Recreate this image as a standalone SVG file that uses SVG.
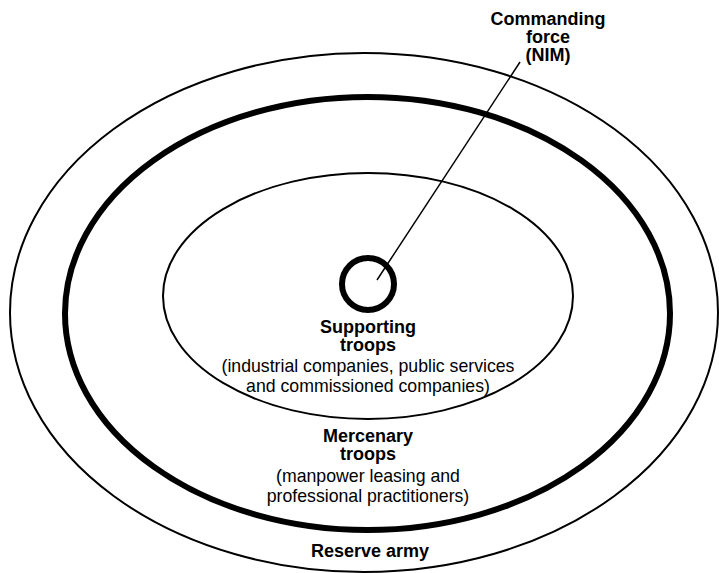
<svg xmlns="http://www.w3.org/2000/svg" width="719" height="573" viewBox="0 0 719 573">
<style>
.ring{fill:none;stroke:#000}
.b{font-family:"Liberation Sans",Arial,sans-serif;font-weight:bold;font-size:18px;text-anchor:middle;fill:#000}
.r{font-family:"Liberation Sans",Arial,sans-serif;font-size:17.7px;text-anchor:middle;fill:#000}
</style>
<rect width="719" height="573" fill="#fff"/>
<g id="reserve-army">
<ellipse class="ring" cx="364" cy="312.5" rx="354" ry="259.5" stroke-width="2"/>
<text class="b" x="370" y="557">Reserve army</text>
</g>
<g id="mercenary-troops">
<ellipse class="ring" cx="367.5" cy="313.5" rx="302.5" ry="216.5" stroke-width="6"/>
<text class="b" x="368" y="442">Mercenary</text>
<text class="b" x="368" y="460">troops</text>
<text class="r" x="368" y="482">(manpower leasing and</text>
<text class="r" x="368" y="502">professional practitioners)</text>
</g>
<g id="supporting-troops">
<ellipse class="ring" cx="368" cy="296" rx="205" ry="123" stroke-width="2"/>
<text class="b" x="368" y="333">Supporting</text>
<text class="b" x="368" y="351">troops</text>
<text class="r" x="368" y="372">(industrial companies, public services</text>
<text class="r" x="368" y="392">and commissioned companies)</text>
</g>
<g id="commanding-force">
<circle class="ring" cx="368" cy="284" r="26" stroke-width="6"/>
<text class="b" x="548" y="25">Commanding</text>
<text class="b" x="548" y="43">force</text>
<text class="b" x="548" y="61">(NIM)</text>
</g>
<g id="connectors">
<line x1="377" y1="280" x2="520" y2="62" stroke="#000" stroke-width="1.5"/>
</g>
</svg>
